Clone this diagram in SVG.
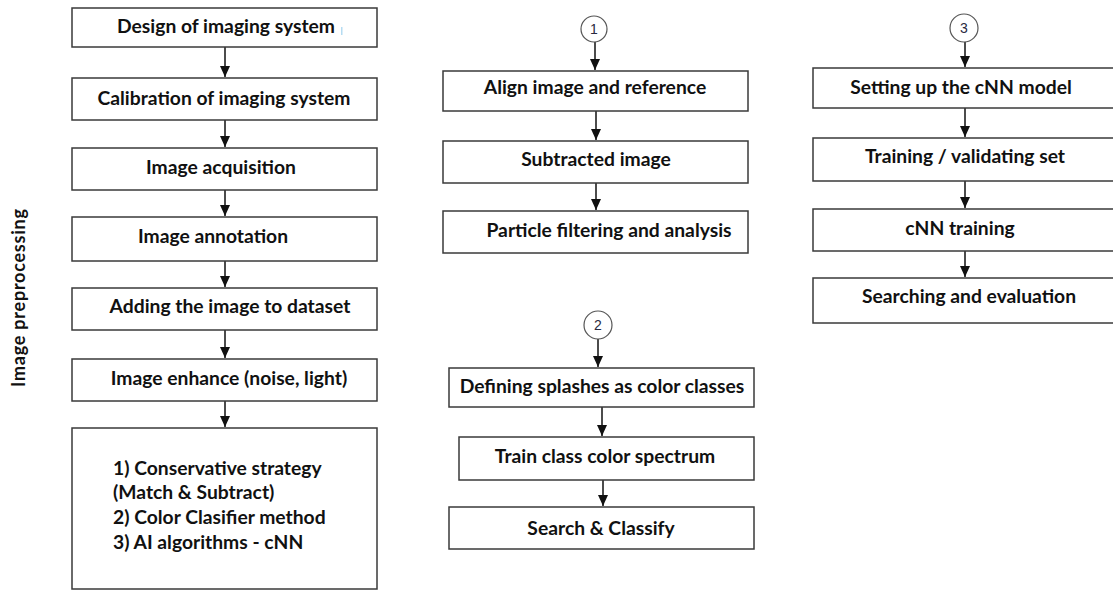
<svg xmlns="http://www.w3.org/2000/svg" width="1113" height="590" viewBox="0 0 1113 590">
<defs>
<marker id="ah" markerUnits="userSpaceOnUse" markerWidth="11" markerHeight="10" viewBox="0 0 11 10" refX="11" refY="5" orient="auto">
<path d="M0,0 L11,5 L0,10 Z" fill="#111"/>
</marker>
<style>
.box{fill:#fff;stroke:#3a3a3a;stroke-width:1.5}
.t{font-family:Lato,"Liberation Sans",sans-serif;font-weight:bold;font-size:19.3px;fill:#111;text-anchor:middle}
.tl{font-family:Lato,"Liberation Sans",sans-serif;font-weight:bold;font-size:19.3px;fill:#111}
.c{fill:#fff;stroke:#555;stroke-width:1.2}
.cn{font-family:"Liberation Sans",Arial,sans-serif;font-size:14px;fill:#2a2a40;text-anchor:middle}
.ar{stroke:#111;stroke-width:1.5;fill:none;marker-end:url(#ah)}
</style>
</defs>
<rect width="1113" height="590" fill="#fff"/>

<g id="connectors">
<line class="ar" x1="225" y1="47" x2="225" y2="77"/>
<line class="ar" x1="225" y1="120" x2="225" y2="147"/>
<line class="ar" x1="225" y1="190" x2="225" y2="216"/>
<line class="ar" x1="225" y1="261" x2="225" y2="287"/>
<line class="ar" x1="225" y1="330" x2="225" y2="358"/>
<line class="ar" x1="225" y1="401" x2="225" y2="427"/>
<line class="ar" x1="595" y1="42" x2="595" y2="70"/>
<line class="ar" x1="596" y1="111" x2="596" y2="140"/>
<line class="ar" x1="596" y1="183" x2="596" y2="210"/>
<line class="ar" x1="598" y1="339" x2="598" y2="367"/>
<line class="ar" x1="602" y1="407" x2="602" y2="436"/>
<line class="ar" x1="603" y1="480" x2="603" y2="506"/>
<line class="ar" x1="965" y1="42" x2="965" y2="67"/>
<line class="ar" x1="965" y1="108" x2="965" y2="137"/>
<line class="ar" x1="965" y1="181" x2="965" y2="208"/>
<line class="ar" x1="965" y1="251" x2="965" y2="277"/>
</g>

<g id="label-preprocessing">
<text transform="translate(25,298) rotate(-90)" class="t" style="font-size:18px" textLength="178">Image preprocessing</text>
</g>

<g id="n1"><rect class="box" x="72" y="8" width="305" height="39"/><text class="t" x="226" y="33">Design of imaging system</text><rect x="341" y="27" width="1.5" height="8" fill="#b5dcf2"/></g>
<g id="n2"><rect class="box" x="72" y="78" width="305" height="42"/><text class="t" x="224" y="105">Calibration of imaging system</text></g>
<g id="n3"><rect class="box" x="72" y="148" width="305" height="42"/><text class="t" x="221" y="174">Image acquisition</text></g>
<g id="n4"><rect class="box" x="72" y="217" width="305" height="44"/><text class="t" x="213" y="243">Image annotation</text></g>
<g id="n5"><rect class="box" x="72" y="288" width="305" height="42"/><text class="t" x="230" y="313">Adding the image to dataset</text></g>
<g id="n6"><rect class="box" x="72" y="359" width="305" height="42"/><text class="t" x="229" y="385">Image enhance (noise, light)</text></g>
<g id="n7"><rect class="box" x="72" y="428" width="305" height="161"/>
<text class="tl" x="113" y="475">1) Conservative strategy</text>
<text class="tl" x="113" y="499">(Match &amp; Subtract)</text>
<text class="tl" x="113" y="524">2) Color Clasifier method</text>
<text class="tl" x="113" y="549">3) AI algorithms - cNN</text>
</g>

<g id="c1"><circle class="c" cx="594" cy="29" r="13"/><text class="cn" x="594" y="34">1</text></g>
<g id="a1"><rect class="box" x="443" y="71" width="305" height="40"/><text class="t" x="595" y="94">Align image and reference</text></g>
<g id="a2"><rect class="box" x="443" y="141" width="305" height="42"/><text class="t" x="596" y="166">Subtracted image</text></g>
<g id="a3"><rect class="box" x="443" y="211" width="305" height="42"/><text class="t" x="609" y="237">Particle filtering and analysis</text></g>

<g id="c2"><circle class="c" cx="598" cy="325" r="14"/><text class="cn" x="598" y="330">2</text></g>
<g id="b1"><rect class="box" x="449" y="368" width="305" height="39"/><text class="t" x="602" y="393">Defining splashes as color classes</text></g>
<g id="b2"><rect class="box" x="459" y="437" width="295" height="43"/><text class="t" x="605" y="463">Train class color spectrum</text></g>
<g id="b3"><rect class="box" x="449" y="507" width="305" height="42"/><text class="t" x="601" y="535">Search &amp; Classify</text></g>

<g id="c3"><circle class="c" cx="964" cy="28" r="14"/><text class="cn" x="964" y="33">3</text></g>
<g id="d1"><rect class="box" x="813" y="68" width="320" height="40"/><text class="t" x="961" y="94">Setting up the cNN model</text></g>
<g id="d2"><rect class="box" x="813" y="138" width="320" height="43"/><text class="t" x="965" y="163">Training / validating set</text></g>
<g id="d3"><rect class="box" x="813" y="209" width="320" height="42"/><text class="t" x="960" y="235">cNN training</text></g>
<g id="d4"><rect class="box" x="813" y="278" width="320" height="45"/><text class="t" x="969" y="303">Searching and evaluation</text></g>
</svg>
